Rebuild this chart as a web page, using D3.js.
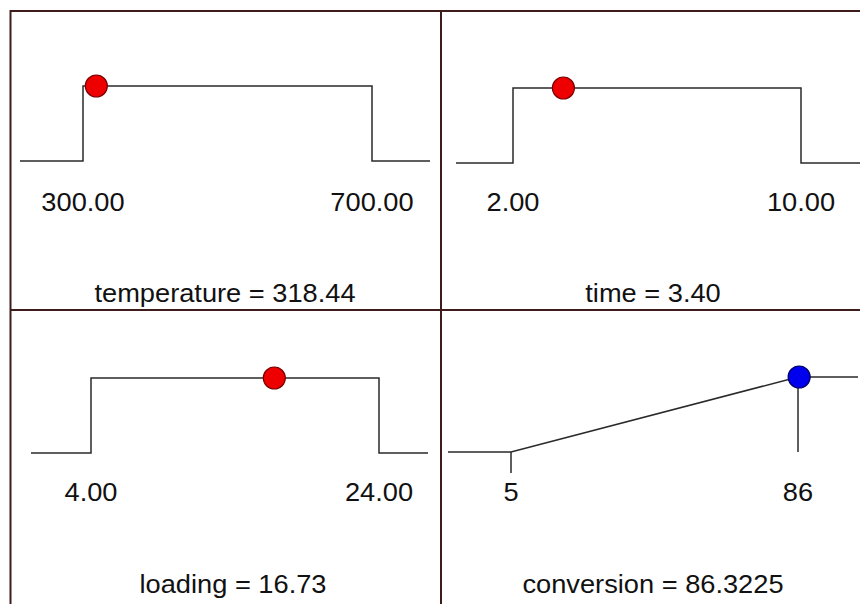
<!DOCTYPE html>
<html>
<head>
<meta charset="utf-8">
<script src="https://cdn.jsdelivr.net/npm/d3@7"></script>
<style>
  html, body { margin: 0; padding: 0; background: #ffffff; }
  svg { display: block; }
  text { font-family: "Liberation Sans", Arial, sans-serif; fill: #111; }
</style>
</head>
<body>
<svg id="chart" width="860" height="604"></svg>
<script>
// ---- data ----
const factors      = ["temperature", "time", "loading", "conversion"];
const lows         = [300, 2, 4, 5];
const highs        = [700, 10, 24, 86];
const values       = [318.44, 3.40, 16.73, 86.3225];
const lowLabels    = ["300.00", "2.00", "4.00", "5"];
const highLabels   = ["700.00", "10.00", "24.00", "86"];
const valueLabels  = ["318.44", "3.40", "16.73", "86.3225"];
const goals        = ["range", "range", "range", "maximize"];

// ---- layout (pixel geometry per panel) ----
const layout = [
  { ls: 20,  lo: 83,  hi: 372, le: 430, yb: 161, yt: 86,  ly: 211, tx: 225, ty: 302 },
  { ls: 456, lo: 513, hi: 801, le: 860, yb: 163, yt: 88,  ly: 211, tx: 653, ty: 302 },
  { ls: 31,  lo: 91,  hi: 379, le: 428, yb: 453, yt: 378, ly: 501, tx: 233, ty: 593 },
  { ls: 448, lo: 511, hi: 798, le: 858, yb: 452, yt: 377, ly: 501, tx: 653, ty: 593 }
];

const svg = d3.select("#chart");
const lineColor = "#2a2a2a";
const borderColor = "#3e1c1c";
const fontSize = 25;
const stretch = 1.09;

function addText(x, y, str) {
  svg.append("text")
    .attr("transform", `translate(${x},${y}) scale(${stretch},1)`)
    .attr("text-anchor", "middle")
    .attr("font-size", fontSize)
    .text(str);
}

factors.forEach((name, i) => {
  const L = layout[i];
  const x = d3.scaleLinear().domain([lows[i], highs[i]]).range([L.lo, L.hi]);
  const y = d3.scaleLinear().domain([0, 1]).range([L.yb, L.yt]);
  const line = d3.line().x(d => d[0]).y(d => d[1]);

  let pts, d;
  if (goals[i] === "range") {
    pts = [[L.ls, y(0)], [x(lows[i]), y(0)], [x(lows[i]), y(1)],
           [x(highs[i]), y(1)], [x(highs[i]), y(0)], [L.le, y(0)]];
    d = (values[i] >= lows[i] && values[i] <= highs[i]) ? 1 : 0;
  } else {
    pts = [[L.ls, y(0)], [x(lows[i]), y(0)], [x(highs[i]), y(1)], [L.le, y(1)]];
    d = Math.max(0, Math.min(1, (values[i] - lows[i]) / (highs[i] - lows[i])));
    // tick marks
    svg.append("line")
      .attr("x1", x(lows[i])).attr("x2", x(lows[i]))
      .attr("y1", y(0)).attr("y2", y(0) + 21)
      .attr("stroke", lineColor).attr("stroke-width", 1.5);
    svg.append("line")
      .attr("x1", x(highs[i])).attr("x2", x(highs[i]))
      .attr("y1", y(1)).attr("y2", y(0))
      .attr("stroke", lineColor).attr("stroke-width", 1.5);
  }

  svg.append("path")
    .attr("d", line(pts))
    .attr("fill", "none")
    .attr("stroke", lineColor)
    .attr("stroke-width", 1.5);

  const isMax = goals[i] === "maximize";
  svg.append("circle")
    .attr("cx", x(values[i]))
    .attr("cy", y(d))
    .attr("r", 11)
    .attr("fill", isMax ? "#0000ee" : "#ee0000")
    .attr("stroke", isMax ? "#000066" : "#7a0000")
    .attr("stroke-width", 1.2);

  addText(x(lows[i]), L.ly, lowLabels[i]);
  addText(x(highs[i]), L.ly, highLabels[i]);
  addText(L.tx, L.ty, `${name} = ${valueLabels[i]}`);
});

// ---- panel borders ----
svg.append("rect")
  .attr("x", 10.5).attr("y", 11)
  .attr("width", 870).attr("height", 620)
  .attr("fill", "none")
  .attr("stroke", borderColor).attr("stroke-width", 2);
svg.append("line")
  .attr("x1", 441).attr("x2", 441).attr("y1", 11).attr("y2", 604)
  .attr("stroke", borderColor).attr("stroke-width", 2);
svg.append("line")
  .attr("x1", 10.5).attr("x2", 860).attr("y1", 310).attr("y2", 310)
  .attr("stroke", borderColor).attr("stroke-width", 2);
</script>
</body>
</html>
